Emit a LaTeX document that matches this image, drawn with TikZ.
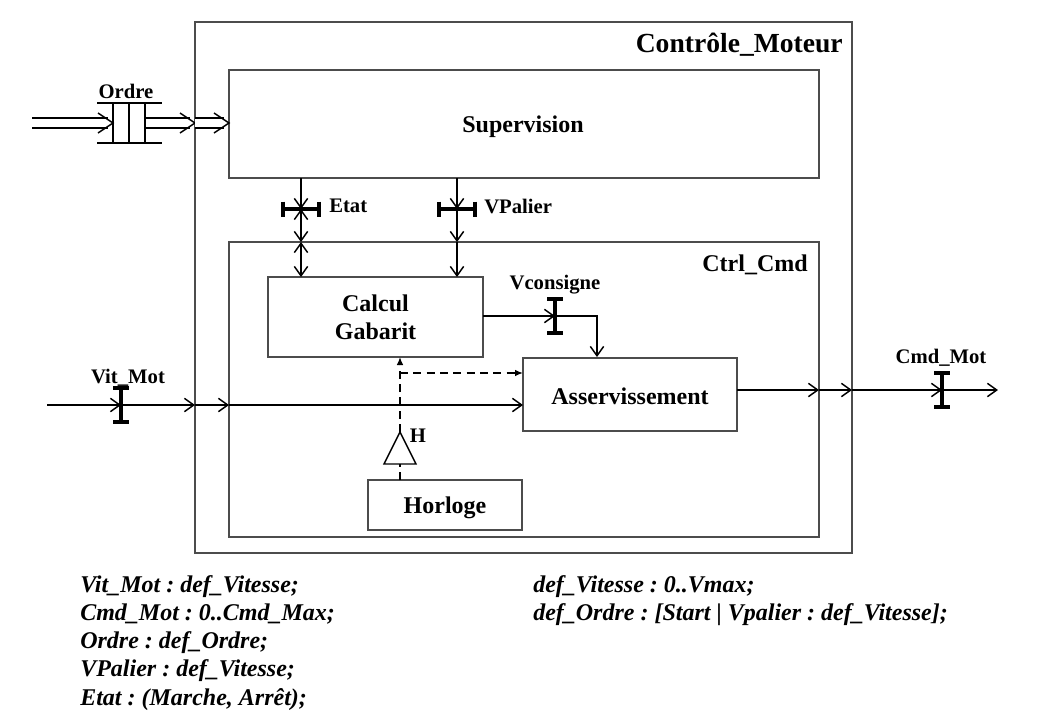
\documentclass[tikz,border=0pt]{standalone}
\usepackage{fontspec}
\setmainfont{Liberation Serif}
\usetikzlibrary{arrows.meta}
\frenchspacing
\tikzset{
  boxst/.style={draw=black!70, line width=1.1pt, inner sep=0pt, align=center,
    font=\bfseries\fontsize{18}{21}\selectfont},
  txtst/.style={inner sep=0pt, align=center, font=\bfseries\fontsize{18}{21}\selectfont},
  lbl/.style={inner sep=0pt, font=\bfseries\fontsize{15.5}{18}\selectfont},
  flow/.style={line width=1.1pt, -{Straight Barb[length=7pt,width=10pt,line width=1.1pt]}},
  bflow/.style={line width=1.1pt, {Straight Barb[length=7pt,width=10pt,line width=1.1pt]}-{Straight Barb[length=7pt,width=10pt,line width=1.1pt]}},
  dflow/.style={line width=1.1pt, dash pattern=on 6pt off 4pt, -{Latex[length=6pt,width=5pt]}},
  dline/.style={line width=1.1pt, dash pattern=on 6pt off 4pt},
  barst/.style={line width=3pt},
  dbl/.style={double, double distance=6.5pt, line width=1pt, shorten >=4pt},
  chev/.style={line width=1.1pt},
  bottomtxt/.style={inner sep=0pt, align=left, anchor=north west,
    font=\bfseries\itshape\fontsize{18}{21.2}\selectfont},
}
\newcommand\hbarI[3]{% x y halfwidth : horizontal bar with vertical caps
  \draw[barst] (#1-#3,#2) -- (#1+#3,#2);
  \draw[barst] (#1-#3,#2-7.5) -- (#1-#3,#2+7.5);
  \draw[barst] (#1+#3,#2-7.5) -- (#1+#3,#2+7.5);}
\newcommand\vbarI[3]{% x y halfheight : vertical bar with horizontal caps
  \draw[barst] (#1,#2-#3) -- (#1,#2+#3);
  \draw[barst] (#1-8,#2-#3) -- (#1+8,#2-#3);
  \draw[barst] (#1-8,#2+#3) -- (#1+8,#2+#3);}
\newcommand\chevR[1]{\draw[chev] (#1) ++(-15,-10) -- (#1) -- ++(-15,10);}
\begin{document}
\begin{tikzpicture}[x=0.75pt,y=-0.75pt]
\useasboundingbox (0,0) rectangle (1040,722);
% boxes
\draw[draw=black!70, line width=1.1pt] (195,22) rectangle (852,553);
\node[inner sep=0pt, anchor=east, font=\bfseries\fontsize{20.7}{24}\selectfont] (title) at (843,45) {Contrôle\_Moteur};
\node[boxst, minimum width=442.5pt, minimum height=81pt] (sup) at (524,124) {};
\node[txtst] (suptxt) at (523,127) {Supervision};
\node[boxst, minimum width=442.5pt, minimum height=221.25pt] (ctrl) at (524,389.5) {};
\node[inner sep=0pt, anchor=east, font=\bfseries\fontsize{18}{21}\selectfont] (ctrllbl) at (808,265) {Ctrl\_Cmd};
\node[boxst, minimum width=161.25pt, minimum height=60pt] (calc) at (375.5,317) {Calcul\\Gabarit};
\node[boxst, minimum width=160.5pt, minimum height=54.75pt] (asv) at (630,394.5) {};
\node[txtst] (asvtxt) at (630,396) {Asservissement};
\node[boxst, minimum width=115.5pt, minimum height=37.5pt] (horl) at (445,505) {};
\node[txtst] (horltxt) at (445,508) {Horloge};

% Ordre queue
\coordinate (oin) at (32,123);
\coordinate (q1) at (113,123);
\coordinate (q2) at (145,123);
\coordinate (ob) at (195,123);
\coordinate (os) at (229,123);
\draw[dbl] (oin) -- (q1); \chevR{q1}
\draw[dbl] (q2) -- (ob); \chevR{ob}
\draw[dbl] (ob) -- (os); \chevR{os}
\draw[line width=1.1pt] (97,103) -- (162,103) (97,143) -- (162,143)
  (113,103) -- (113,143) (129,103) -- (129,143) (145,103) -- (145,143);
\node[lbl] (ordre) at (126,91) {Ordre};

% Etat
\coordinate (e0) at (301,178);
\coordinate (eb) at (301,209);
\coordinate (ec) at (301,242);
\coordinate (ed) at (301,277);
\draw[flow] (e0) -- (eb);
\draw[bflow] (eb) -- (ec);
\draw[bflow] (ec) -- (ed);
\hbarI{301}{209}{18}
\node[lbl, anchor=west] (etat) at (329,206) {Etat};

% VPalier
\coordinate (v0) at (457,178);
\coordinate (vb) at (457,209);
\coordinate (vc) at (457,242);
\coordinate (vd) at (457,277);
\draw[flow] (v0) -- (vb);
\draw[flow] (vb) -- (vc);
\draw[flow] (vc) -- (vd);
\hbarI{457}{209}{18}
\node[lbl, anchor=west] (vpal) at (484,206) {VPalier};

% Vconsigne
\coordinate (c0) at (483,316);
\coordinate (cb) at (555,316);
\coordinate (cc) at (597,316);
\coordinate (cd) at (597,357);
\draw[flow] (c0) -- (cb);
\draw[flow] (cb) -- (cc) -- (cd);
\vbarI{555}{316}{17}
\node[lbl] (vcons) at (555,285) {Vconsigne};

% Vit_Mot
\coordinate (m0) at (47,405);
\coordinate (mb) at (121,405);
\coordinate (mo) at (195,405);
\coordinate (mc) at (229,405);
\coordinate (ma) at (523,405);
\draw[flow] (m0) -- (mb);
\draw[flow] (mb) -- (mo);
\draw[flow] (mo) -- (mc);
\draw[flow] (mc) -- (ma);
\vbarI{121}{405}{17}
\node[lbl] (vitmot) at (128,378) {Vit\_Mot};

% Cmd_Mot
\coordinate (k0) at (737,390);
\coordinate (kc) at (819,390);
\coordinate (ko) at (852,390);
\coordinate (kb) at (942,390);
\coordinate (ke) at (998,390);
\draw[flow] (k0) -- (kc);
\draw[flow] (kc) -- (ko);
\draw[flow] (ko) -- (kb);
\draw[flow] (kb) -- (ke);
\vbarI{942}{390}{17}
\node[lbl] (cmdmot) at (941,358) {Cmd\_Mot};

% Horloge
\coordinate (h0) at (400,480);
\coordinate (hbase) at (400,464);
\coordinate (hapex) at (400,432);
\coordinate (hsplit) at (400,373);
\coordinate (hcalc) at (400,357);
\coordinate (hasv) at (523,373);
\draw[dline] (h0) -- (hbase);
\draw[line width=1.1pt] (384,464) -- (hapex) -- (416,464) -- cycle;
\draw[dflow] (hapex) -- (hcalc);
\draw[dflow] (hsplit) -- (hasv);
\node[lbl] (hlbl) at (418,436) {H};

% declarations
\node[bottomtxt] (decl1) at (80,575) {Vit\_Mot : def\_Vitesse;\\Cmd\_Mot : 0..Cmd\_Max;\\Ordre : def\_Ordre;\\VPalier : def\_Vitesse;\\Etat : (Marche, Arrêt);};
\node[bottomtxt] (decl2) at (533,575) {def\_Vitesse : 0..Vmax;\\def\_Ordre : [Start | Vpalier : def\_Vitesse];};
\end{tikzpicture}
\end{document}
